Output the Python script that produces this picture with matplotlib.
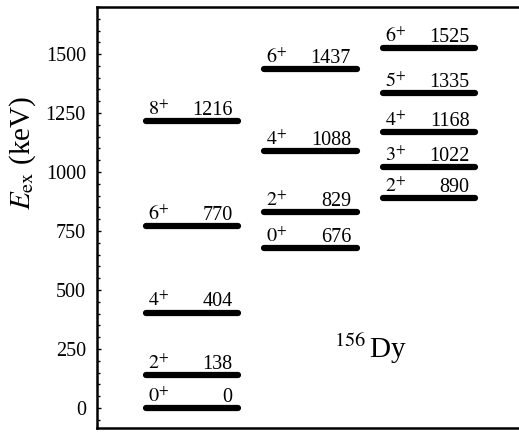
import matplotlib
matplotlib.use("Agg")
import matplotlib.pyplot as plt
from matplotlib.ticker import MultipleLocator

plt.rcParams["font.family"] = ["Liberation Serif", "DejaVu Serif"]
plt.rcParams["mathtext.fontset"] = "stix"

# 156Dy level scheme: ground band, first excited 0+ band, gamma band
gsb_spins = [0, 2, 4, 6, 8]
gsb_energies = [0, 138, 404, 770, 1216]

beta_spins = [0, 2, 4, 6]
beta_energies = [676, 829, 1088, 1437]

gamma_spins = [2, 3, 4, 5, 6]
gamma_energies = [890, 1022, 1168, 1335, 1525]

bands = [(gsb_spins, gsb_energies),
         (beta_spins, beta_energies),
         (gamma_spins, gamma_energies)]

nucleus = r"$^{156}\,$Dy"

fig = plt.figure(figsize=(5.19, 4.34), dpi=100)
ax = fig.add_axes([0.187, 0.014, 0.813, 0.970])

half = 0.39
for col, (spins, energies) in enumerate(bands):
    lc = ax.hlines(energies, col - half, col + half, colors="black",
                   linewidth=4.5)
    lc.set_capstyle("round")
    for j, e in zip(spins, energies):
        ax.annotate(rf"${j}^{{+}}$", (col - half, e), xytext=(1.5, 4.5),
                    textcoords="offset points", ha="left", va="baseline",
                    fontsize=14.5)
        ax.annotate(str(e), (col + half, e), xytext=(-4, 4.5),
                    textcoords="offset points", ha="right", va="baseline",
                    fontsize=14.5)

ax.text(1.51, 211, nucleus, fontsize=21, ha="center", va="baseline")

ax.set_xlim(-0.8, 2.76)
ax.set_ylim(-85, 1700)
ax.set_xticks([])
ax.yaxis.set_major_locator(MultipleLocator(250))
ax.yaxis.set_minor_locator(MultipleLocator(50))
ax.tick_params(axis="y", which="major", direction="in", length=3,
               width=1, pad=8, labelsize=14.5)
ax.tick_params(axis="y", which="minor", direction="in", length=1.8,
               width=1)
ax.set_ylabel(r"$E_{\rm ex}$ (keV)", fontsize=21)
ax.yaxis.set_label_coords(-0.14, 0.653)

ax.spines["right"].set_visible(False)
for side in ("left", "top", "bottom"):
    ax.spines[side].set_linewidth(1.8)

fig.savefig("out.png", dpi=100)
